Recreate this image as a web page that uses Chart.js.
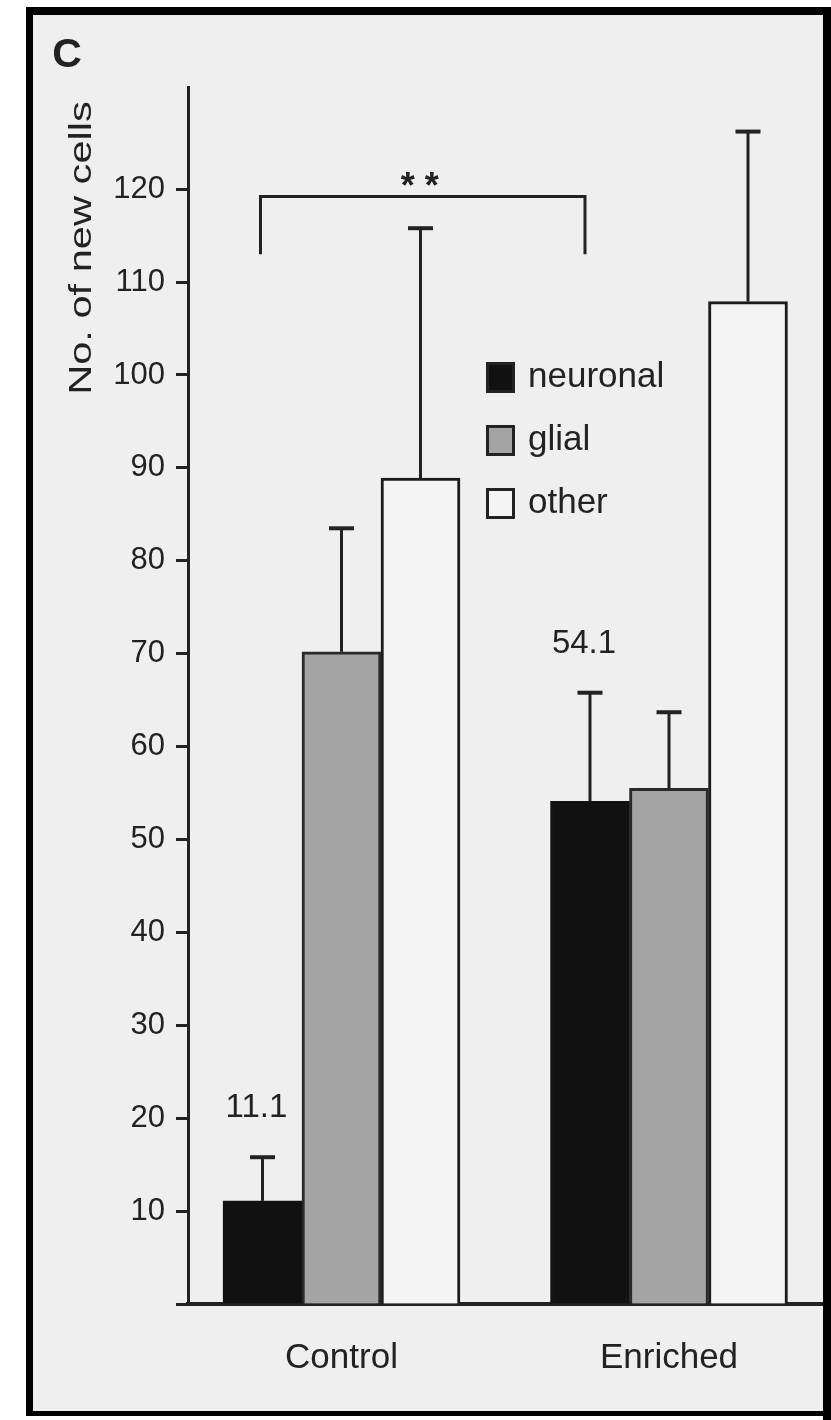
<!DOCTYPE html>
<html>
<head>
<meta charset="utf-8">
<script src="https://cdn.jsdelivr.net/npm/chart.js@4.4.1/dist/chart.umd.min.js"></script>
<style>
  html, body { margin: 0; padding: 0; background: #fff; overflow: hidden; }
  canvas { display: block; }
</style>
</head>
<body>
<canvas id="chart" width="831" height="1420"></canvas>
<script>
// data
const categories = ["Control", "Enriched"];
const neuronal = [11.1, 54.1];
const glial = [70.2, 55.5];
const other = [88.9, 107.9];
const neuronalErr = [4.7, 11.7];
const glialErr = [13.3, 8.2];
const otherErr = [26.9, 18.3];
const yTicks = [0, 10, 20, 30, 40, 50, 60, 70, 80, 90, 100, 110, 120];
const significance = "* *";
const bracketLevel = 119.2;
const bracketDrop = 113;

const FONT = '"Liberation Sans", Arial, Helvetica, sans-serif';
const INK = "#222";

// paper background + black frame
const paper = {
  id: "paper",
  beforeDraw(chart) {
    const ctx = chart.ctx;
    ctx.save();
    ctx.fillStyle = "#fff";
    ctx.fillRect(0, 0, chart.width, chart.height);
    ctx.fillStyle = "#efefef";
    ctx.fillRect(33, 15, 790, 1397);
    ctx.fillStyle = "#000";
    ctx.fillRect(26, 7, 805, 8);
    ctx.fillRect(26, 7, 7, 1406);
    ctx.fillRect(823, 7, 8, 1413);
    ctx.fillRect(26, 1411, 797, 5);
    ctx.restore();
  }
};

const annotations = {
  id: "annotations",
  afterDatasetsDraw(chart) {
    const ctx = chart.ctx;
    const y = chart.scales.y;
    ctx.save();
    ctx.strokeStyle = INK;
    ctx.fillStyle = INK;

    // error bars (upper only)
    chart.data.datasets.forEach((ds, di) => {
      chart.getDatasetMeta(di).data.forEach((bar, i) => {
        const top = y.getPixelForValue(ds.data[i].y + ds.errors[i]);
        ctx.lineWidth = 3;
        ctx.beginPath();
        ctx.moveTo(bar.x, bar.y);
        ctx.lineTo(bar.x, top);
        ctx.stroke();
        ctx.lineWidth = 4;
        ctx.beginPath();
        ctx.moveTo(bar.x - 12.5, top);
        ctx.lineTo(bar.x + 12.5, top);
        ctx.stroke();
      });
    });

    // value labels over neuronal bars
    const nMeta = chart.getDatasetMeta(0).data;
    ctx.font = "33px " + FONT;
    ctx.textAlign = "center";
    ctx.textBaseline = "alphabetic";
    nMeta.forEach((bar, i) => {
      const top = y.getPixelForValue(neuronal[i] + neuronalErr[i]);
      ctx.fillText(neuronal[i].toFixed(1), bar.x - 6, top - 40);
    });

    // significance bracket between the neuronal bars
    const lvl = y.getPixelForValue(bracketLevel);
    const drop = y.getPixelForValue(bracketDrop);
    const x0 = nMeta[0].x - 2, x1 = nMeta[1].x - 5;
    ctx.lineWidth = 3;
    ctx.beginPath();
    ctx.moveTo(x0, drop);
    ctx.lineTo(x0, lvl);
    ctx.lineTo(x1, lvl);
    ctx.lineTo(x1, drop);
    ctx.stroke();
    ctx.font = "bold 36px " + FONT;
    ctx.fillText(significance, (x0 + x1) / 2 - 3, lvl + 1);

    ctx.restore();
  },
  afterDraw(chart) {
    const ctx = chart.ctx;
    ctx.save();
    ctx.fillStyle = INK;
    ctx.strokeStyle = INK;

    // panel letter
    ctx.font = "bold 41px " + FONT;
    ctx.textAlign = "center";
    ctx.textBaseline = "alphabetic";
    ctx.fillText("C", 67, 67);

    // y-axis title (stretched like the scan)
    ctx.save();
    ctx.translate(82, 248);
    ctx.rotate(-Math.PI / 2);
    ctx.scale(1.3, 1);
    ctx.font = "32px " + FONT;
    ctx.textBaseline = "middle";
    ctx.fillText("No. of new cells", 0, 0);
    ctx.restore();

    // legend
    ctx.font = "35px " + FONT;
    ctx.textAlign = "left";
    ctx.textBaseline = "middle";
    chart.data.datasets.forEach((ds, i) => {
      const top = 362 + i * 63;
      ctx.fillStyle = ds.backgroundColor;
      ctx.fillRect(486, top, 29, 31);
      ctx.lineWidth = 3;
      ctx.strokeStyle = INK;
      ctx.strokeRect(487.5, top + 1.5, 26, 28);
      ctx.fillStyle = INK;
      ctx.fillText(ds.label, 528, top + 15);
    });
    ctx.restore();
  }
};

const ctx = document.getElementById("chart").getContext("2d");
const chart = new Chart(ctx, {
  type: "bar",
  data: {
    datasets: [
      {
        label: "neuronal",
        data: categories.map((c, i) => ({ x: i, y: neuronal[i] })),
        errors: neuronalErr,
        backgroundColor: "#111111",
        borderColor: "#111111"
      },
      {
        label: "glial",
        data: categories.map((c, i) => ({ x: i, y: glial[i] })),
        errors: glialErr,
        backgroundColor: "#a4a4a4",
        borderColor: "#2a2a2a"
      },
      {
        label: "other",
        data: categories.map((c, i) => ({ x: i, y: other[i] })),
        errors: otherErr,
        backgroundColor: "#f4f4f4",
        borderColor: "#1c1c1c"
      }
    ]
  },
  options: {
    responsive: false,
    animation: false,
    devicePixelRatio: 1,
    barThickness: 79,
    borderWidth: 3,
    layout: { padding: { left: 38, right: 9, top: 87, bottom: 36 } },
    plugins: {
      legend: { display: false },
      tooltip: { enabled: false }
    },
    scales: {
      x: {
        type: "linear",
        offset: false,
        min: -0.4687,
        max: 1.4672,
        afterBuildTicks: (s) => { s.ticks = categories.map((c, i) => ({ value: i })); },
        afterFit: (s) => { s.height = 80; },
        grid: { display: false, drawTicks: false, offset: false },
        border: { display: true, color: INK, width: 4 },
        ticks: {
          autoSkip: false,
          maxRotation: 0,
          padding: 33,
          color: INK,
          font: { family: FONT, size: 35 },
          callback: (v) => categories[v] ?? ""
        }
      },
      y: {
        type: "linear",
        min: 0,
        max: 131,
        afterBuildTicks: (s) => { s.ticks = yTicks.map((v) => ({ value: v })); },
        afterFit: (s) => { s.width = 150; },
        grid: {
          drawOnChartArea: false,
          drawTicks: true,
          tickLength: 12,
          tickWidth: 3,
          tickColor: INK,
          color: INK
        },
        border: { display: true, color: INK, width: 3 },
        ticks: {
          padding: 11,
          color: INK,
          font: { family: FONT, size: 31 },
          callback: (v) => (v === 0 ? "" : v)
        }
      }
    }
  },
  plugins: [paper, annotations]
});
</script>
</body>
</html>
